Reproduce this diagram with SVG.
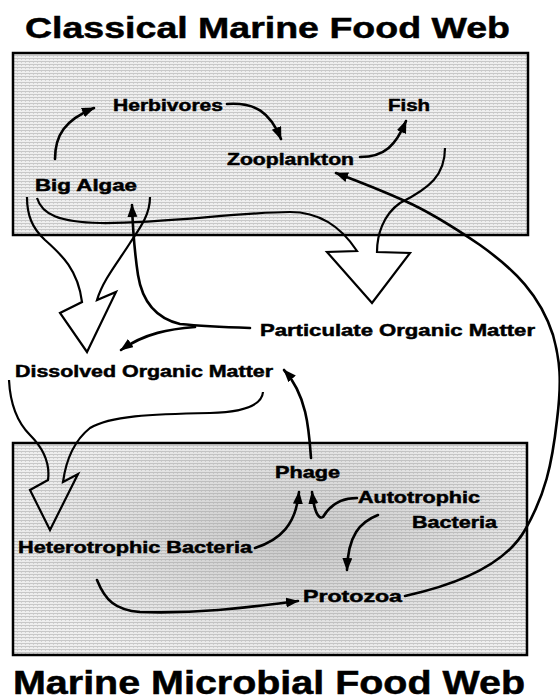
<svg xmlns="http://www.w3.org/2000/svg" width="560" height="700" viewBox="0 0 560 700">
<style>
.t{font-family:"Liberation Sans",Arial,sans-serif;font-weight:bold;fill:#000;stroke:#000;stroke-width:0.5}
.lbl{font-size:17px}
.c{fill:none;stroke:#000;stroke-width:2.6;stroke-linecap:round;stroke-linejoin:round}
.h{fill:none;stroke:#000;stroke-width:2.2;stroke-linejoin:miter}
.box{stroke:#000;stroke-width:2.5}
</style>
<defs>
<pattern id="dots" width="4" height="3" patternUnits="userSpaceOnUse">
<rect width="4" height="3" fill="#efefef"/>
<rect y="1" width="4" height="1" fill="#c8c8c8"/>
<rect x="1" y="2" width="1" height="1" fill="#d2d2d2"/>
</pattern>
<radialGradient id="dark" cx="0.55" cy="0.45" r="0.6">
<stop offset="0" stop-color="#9a9a9a" stop-opacity="0.45"/>
<stop offset="1" stop-color="#9a9a9a" stop-opacity="0"/>
</radialGradient>
<marker id="ah" markerUnits="userSpaceOnUse" markerWidth="14" markerHeight="12" refX="12" refY="5" orient="auto">
<path d="M0,0 L13,5 L0,10 z" fill="#000"/>
</marker>
</defs>

<text class="t" x="25" y="38" font-size="30" textLength="485" lengthAdjust="spacingAndGlyphs">Classical Marine Food Web</text>
<text class="t" x="13" y="694" font-size="33" textLength="512" lengthAdjust="spacingAndGlyphs">Marine Microbial Food Web</text>

<g id="classical-box"><rect class="box" x="13" y="53" width="515" height="182" fill="url(#dots)"/></g>
<g id="microbial-box"><rect class="box" x="13" y="443" width="514" height="212" fill="url(#dots)"/><rect x="14.5" y="444.5" width="511" height="209" fill="url(#dark)"/></g>

<g id="connectors">
<path class="c" d="M55,159 C55,135 65,120 94,108" marker-end="url(#ah)"/>
<path class="c" d="M227,104 C255,102 270,112 281,139" marker-end="url(#ah)"/>
<path class="c" d="M360,157 C385,157 396,145 406,121" marker-end="url(#ah)"/>
<path class="h" d="M37,198 C42,215 60,222 100,223 C160,224 240,212 290,212 C318,212 340,225 357,251 L327,252 L372,303 L410,253 L377,252 C377,235 383,215 400,203 C430,188 445,175 445,148"/>
<path class="h" d="M27,197 C27,215 32,228 45,240 C62,255 78,270 82,302 L60,313 L87,352 L116,292 L97,300 C103,280 118,262 130,243 C140,228 150,215 150,197"/>
<path class="c" d="M250,328 C220,327 200,326 180,324 C155,318 142,300 138,275 C135,255 133,235 132,205" marker-end="url(#ah)"/>
<path class="c" d="M195,327 C170,329 145,333 121,350" marker-end="url(#ah)"/>
<path class="c" d="M405,596 C455,585 505,565 525,530 C545,495 552,465 557,420 C562,380 560,360 553,335 C540,295 515,270 480,245 C455,228 430,212 405,201 C385,192 360,182 336,173" marker-end="url(#ah)"/>
<path class="h" d="M9,380 C10,400 15,420 30,435 C45,450 50,465 48,480 L30,490 L50,530 L78,474 L63,482 C66,460 75,440 90,428 C110,416 150,414 210,413 C245,412 262,405 263,392"/>
<path class="c" d="M311,458 C309,430 307,395 284,370" marker-end="url(#ah)"/>
<path class="c" d="M255,548 C280,540 296,525 299,492" marker-end="url(#ah)"/>
<path class="c" d="M357,498 C340,498 330,505 323,517 C318,520 314,510 312,492" marker-end="url(#ah)"/>
<path class="c" d="M378,515 C360,522 348,535 347,570" marker-end="url(#ah)"/>
<path class="c" d="M97,580 C105,600 115,610 140,612 C200,614 250,607 298,601" marker-end="url(#ah)"/>
</g>

<g id="herbivores"><text class="t lbl" x="113" y="111" textLength="110" lengthAdjust="spacingAndGlyphs">Herbivores</text></g>
<g id="zooplankton"><text class="t lbl" x="227" y="165" textLength="127" lengthAdjust="spacingAndGlyphs">Zooplankton</text></g>
<g id="fish"><text class="t lbl" x="388" y="111" textLength="42" lengthAdjust="spacingAndGlyphs">Fish</text></g>
<g id="big-algae"><text class="t lbl" x="35" y="191" textLength="102" lengthAdjust="spacingAndGlyphs">Big Algae</text></g>
<g id="pom"><text class="t lbl" x="260" y="336" textLength="275" lengthAdjust="spacingAndGlyphs">Particulate Organic Matter</text></g>
<g id="dom"><text class="t lbl" x="15" y="377" textLength="258" lengthAdjust="spacingAndGlyphs">Dissolved Organic Matter</text></g>
<g id="heterotrophic-bacteria"><text class="t lbl" x="18" y="553" textLength="234" lengthAdjust="spacingAndGlyphs">Heterotrophic Bacteria</text></g>
<g id="phage"><text class="t lbl" x="275" y="478" textLength="65" lengthAdjust="spacingAndGlyphs">Phage</text></g>
<g id="autotrophic-bacteria"><text class="t lbl" x="358" y="503" textLength="122" lengthAdjust="spacingAndGlyphs">Autotrophic</text><text class="t lbl" x="412" y="528" textLength="85" lengthAdjust="spacingAndGlyphs">Bacteria</text></g>
<g id="protozoa"><text class="t lbl" x="303" y="602" textLength="99" lengthAdjust="spacingAndGlyphs">Protozoa</text></g>
</svg>
